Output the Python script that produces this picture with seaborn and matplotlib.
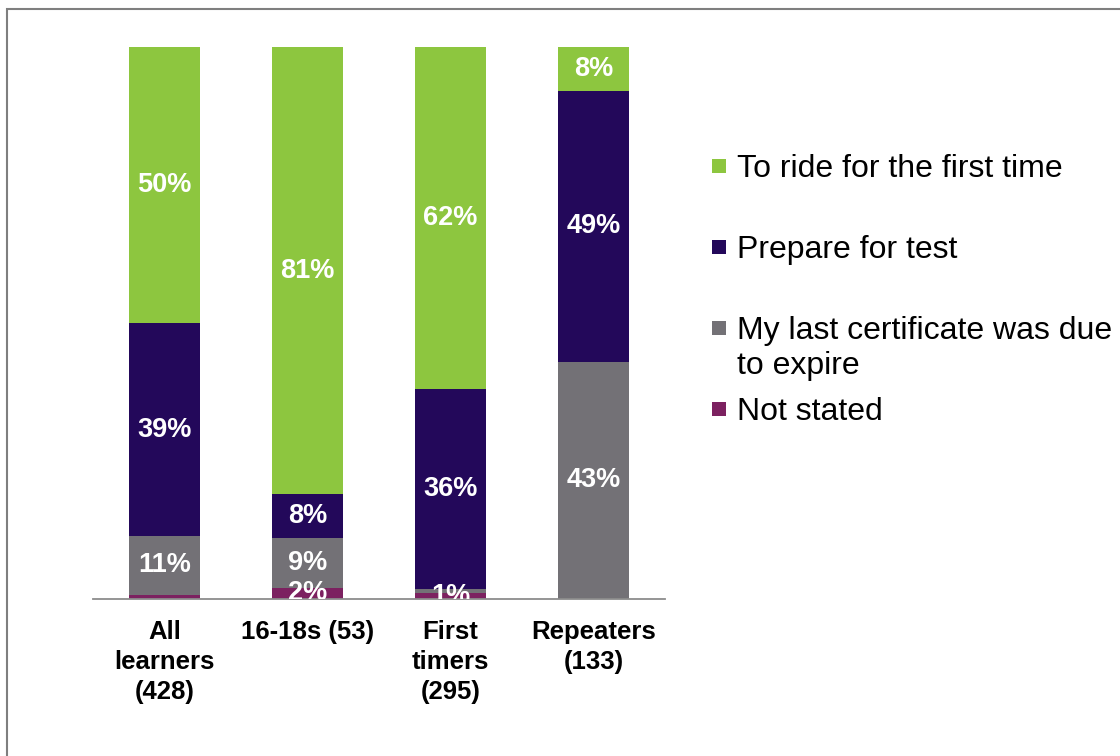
import matplotlib
matplotlib.use("Agg")
import matplotlib.pyplot as plt
from matplotlib.patches import Rectangle
import pandas as pd
import seaborn as sns

# Reasons for taking the course, % of learners in each group
groups = ["All\nlearners\n(428)", "16-18s (53)", "First\ntimers\n(295)", "Repeaters\n(133)"]
not_stated = [0.8, 2, 1.0, 0]
last_cert = [10.6, 9, 0.8, 43]
prepare = [38.6, 8, 36.2, 49]
first_ride = [50, 81, 62, 8]

series_names = ["Not stated", "My last certificate was due\nto expire",
                "Prepare for test", "To ride for the first time"]
series_colors = ["#7c2160", "#737176", "#23085a", "#8dc63f"]

df = pd.DataFrame({
    "group": groups,
    "Not stated": not_stated,
    "Cert": last_cert,
    "Prepare": prepare,
    "Ride": first_ride,
})
value_cols = ["Not stated", "Cert", "Prepare", "Ride"]
cum = df[value_cols].cumsum(axis=1)

sns.set_style("white")
plt.rcParams["font.family"] = ["Liberation Sans", "DejaVu Sans"]

fig, ax = plt.subplots(figsize=(11.2, 7.56), dpi=100)
fig.subplots_adjust(left=93 / 1120, right=665 / 1120,
                    bottom=1 - 599 / 756, top=1 - 47 / 756)

# stacked bars: draw cumulative totals from the top layer down
for col, color in reversed(list(zip(value_cols, series_colors))):
    sns.barplot(x=df["group"], y=cum[col], color=color, saturation=1,
                width=0.5, linewidth=0, errorbar=None, ax=ax)

# segment labels
for i in range(len(df)):
    bottom = 0
    for col in value_cols:
        v = df.loc[i, col]
        if v >= 1:
            ax.text(i, bottom + v / 2, f"{v:.0f}%", ha="center", va="center",
                    color="white", fontsize=19.5, fontweight="bold", clip_on=True)
        bottom += v

ax.set_xlim(-0.5, len(groups) - 0.5)
ax.set_ylim(0, 100)
ax.set_xlabel("")
ax.set_ylabel("")
ax.set_yticks([])
for side in ["left", "top", "right"]:
    ax.spines[side].set_visible(False)
ax.spines["bottom"].set_color("#8c8c8c")
ax.spines["bottom"].set_linewidth(1.3)

ax.set_xticks(range(len(groups)))
ax.set_xticklabels(groups, fontsize=18.5, fontweight="bold", color="black",
                   linespacing=1.33)
ax.set_xticks([x - 0.5 for x in range(len(groups) + 1)], minor=True)
ax.tick_params(axis="x", which="major", length=0, pad=15)
ax.tick_params(axis="x", which="minor", length=6, width=1.3, color="#8c8c8c",
               direction="out")

# legend, top entry first
W, H = 1120, 756
legend_order = [3, 2, 1, 0]
for k, idx in enumerate(legend_order):
    yc = 166 + 81 * k
    fig.add_artist(Rectangle((712 / W, 1 - (yc + 7) / H), 14 / W, 14 / H,
                             facecolor=series_colors[idx], edgecolor="none",
                             transform=fig.transFigure))
    fig.text(737 / W, 1 - (yc - 12) / H, series_names[idx], fontsize=23,
             color="black", ha="left", va="top", linespacing=1.2)

# outer frame (only top and left edges fall inside the image)
fig.add_artist(Rectangle((7 / W, -0.5), 2, 1.5 - 9 / H, fill=False,
                         edgecolor="#7f7f7f", linewidth=1.5,
                         transform=fig.transFigure, clip_on=False))

fig.savefig("out.png", dpi=100)
